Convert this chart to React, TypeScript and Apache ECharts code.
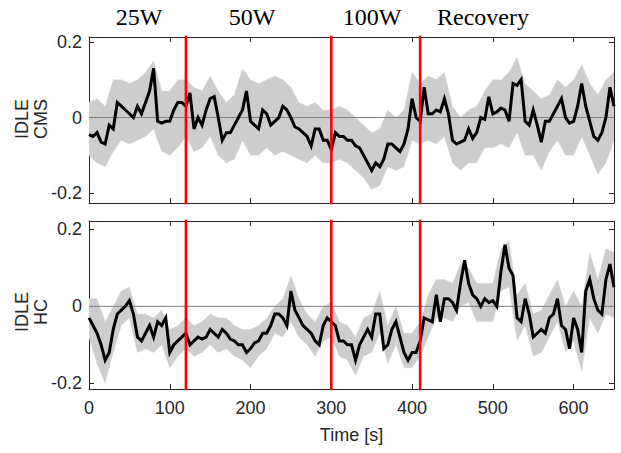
import React, { useEffect, useRef } from "react";
import * as echarts from "echarts";

// ---------- data ----------
const MEAN_STEP = 5; // seconds between black-line samples
const BAND_STEP = 10; // seconds between grey-band samples

const cmsMean = [
  -0.045, -0.05, -0.04, -0.065, -0.07, -0.02, -0.03, 0.04, 0.03, 0.02,
  0.01, 0.0, 0.03, 0.01, 0.04, 0.07, 0.13, -0.01, -0.015, -0.01,
  -0.01, 0.02, 0.04, 0.04, 0.03, 0.065, -0.03, 0.0, -0.02, 0.02,
  0.05, 0.055, 0.0, -0.06, -0.04, -0.04, -0.02, 0.0, 0.02, 0.07,
  -0.01, -0.02, -0.03, 0.02, 0.01, -0.02, -0.01, 0.0, 0.03, 0.02,
  0.0, -0.025, -0.03, -0.04, -0.05, -0.075, -0.03, -0.03, -0.06, -0.06,
  -0.085, -0.04, -0.05, -0.05, -0.06, -0.06, -0.075, -0.08, -0.1, -0.12,
  -0.14, -0.12, -0.13, -0.11, -0.07, -0.07, -0.08, -0.09, -0.07, -0.03,
  0.05, 0.0, -0.01, 0.08, 0.01, 0.01, 0.02, 0.015, 0.05, 0.01,
  -0.06, -0.07, -0.065, -0.06, -0.03, -0.055, -0.04, 0.0, -0.005, 0.055,
  0.01, 0.015, 0.025, 0.02, -0.01, 0.09, 0.085, 0.1, -0.01, -0.02,
  0.02, -0.02, -0.065, -0.01, -0.01, 0.01, 0.03, 0.05, 0.0, -0.015,
  -0.01, 0.03, 0.09, 0.03, -0.01, -0.05, -0.06, -0.04, 0.0, 0.08,
  0.03,
];

const hcMean = [
  -0.03, -0.05, -0.07, -0.1, -0.14, -0.12, -0.06, -0.02, -0.01, 0.0,
  0.015, -0.02, -0.08, -0.09, -0.07, -0.05, -0.08, -0.04, -0.05, -0.03,
  -0.12, -0.1, -0.09, -0.08, -0.07, -0.1, -0.09, -0.08, -0.085, -0.08,
  -0.06, -0.07, -0.08, -0.06, -0.07, -0.085, -0.09, -0.1, -0.1, -0.12,
  -0.11, -0.095, -0.09, -0.07, -0.07, -0.05, -0.02, -0.02, -0.03, -0.05,
  0.04, -0.01, -0.03, -0.05, -0.06, -0.07, -0.09, -0.1, -0.05, -0.03,
  -0.04, -0.05, -0.09, -0.09, -0.1, -0.1, -0.14, -0.1, -0.08, -0.06,
  -0.08, -0.02, -0.02, -0.11, -0.1, -0.06, -0.04, -0.08, -0.12, -0.14,
  -0.12, -0.12, -0.09, -0.03, -0.035, -0.04, 0.03, -0.04, 0.02, 0.02,
  0.01, -0.01, 0.06, 0.12, 0.06, 0.03, 0.02, 0.0, 0.02, 0.01,
  0.015, 0.0, 0.09, 0.16, 0.1, 0.08, -0.03, -0.04, 0.02, -0.02,
  -0.08, -0.07, -0.06, -0.07, -0.03, -0.02, 0.02, -0.05, -0.06, -0.11,
  -0.03, -0.06, -0.12, 0.04, 0.07, 0.02, -0.01, -0.02, 0.07, 0.11,
  0.05,
];

const cmsUpper = [
  0.04, 0.05, 0.03, 0.1, 0.1, 0.09, 0.1, 0.12, 0.15, 0.07,
  0.07, 0.1, 0.1, 0.08, 0.07, 0.11, 0.07, 0.04, 0.06, 0.13,
  0.1, 0.09, 0.1, 0.11, 0.1, 0.08, 0.04, 0.03, 0.04, 0.02,
  0.02, 0.03, 0.02, 0.0, -0.02, -0.04, -0.03, 0.02, 0.0, 0.02,
  0.12, 0.09, 0.11, 0.1, 0.12, 0.03, 0.0, 0.02, 0.03, 0.07,
  0.1, 0.1, 0.12, 0.16, 0.09, 0.07, 0.05, 0.06, 0.1, 0.08,
  0.1, 0.14, 0.09, 0.06, 0.1, 0.12,
];
const cmsLower = [
  -0.1, -0.12, -0.13, -0.09, -0.06, -0.07, -0.06, -0.05, -0.03, -0.09,
  -0.1, -0.08, -0.05, -0.09, -0.08, -0.05, -0.1, -0.12, -0.11, -0.06,
  -0.1, -0.1, -0.08, -0.1, -0.09, -0.1, -0.11, -0.12, -0.1, -0.12,
  -0.12, -0.11, -0.12, -0.14, -0.16, -0.19, -0.18, -0.13, -0.14, -0.13,
  -0.06, -0.07, -0.06, -0.07, -0.05, -0.12, -0.14, -0.12, -0.12, -0.08,
  -0.08, -0.07, -0.08, -0.04, -0.1, -0.1, -0.14, -0.09, -0.06, -0.1,
  -0.1, -0.05, -0.1, -0.15, -0.12, -0.06,
];
const hcUpper = [
  0.02, 0.02, -0.04, 0.0, 0.04, 0.05, -0.02, -0.02, -0.03, -0.01,
  -0.06, -0.05, -0.03, -0.05, -0.04, -0.02, -0.03, -0.03, -0.05, -0.06,
  -0.06, -0.05, -0.03, 0.0, 0.02, 0.08, 0.02, -0.02, -0.04, 0.0,
  0.01, -0.04, -0.05, -0.08, -0.03, -0.02, 0.04, -0.05, 0.0, -0.07,
  -0.07, -0.04, 0.03, 0.07, 0.07, 0.06, 0.11, 0.1, 0.06, 0.06,
  0.06, 0.15, 0.17, 0.03, 0.06, -0.02, -0.01, 0.03, 0.07, 0.0,
  0.04, 0.0, 0.14, 0.07, 0.15, 0.14,
];
const hcLower = [
  -0.08, -0.15, -0.2, -0.12, -0.05, -0.03, -0.12, -0.11, -0.12, -0.1,
  -0.16, -0.13, -0.11, -0.13, -0.12, -0.1, -0.12, -0.11, -0.13, -0.14,
  -0.16, -0.13, -0.11, -0.07, -0.08, -0.04, -0.08, -0.1, -0.13, -0.09,
  -0.08, -0.13, -0.14, -0.18, -0.13, -0.12, -0.07, -0.15, -0.1, -0.16,
  -0.16, -0.13, -0.08, -0.03, -0.03, -0.04, 0.0, 0.01, -0.04, -0.04,
  -0.04, 0.04, 0.05, -0.09, -0.05, -0.13, -0.12, -0.08, -0.04, -0.12,
  -0.09, -0.17, -0.03, -0.07, -0.02, -0.03,
];

const phaseLabels = ["25W", "50W", "100W", "Recovery"];
const phaseBoundaries = [120, 300, 410];
const yTicks = [-0.2, 0, 0.2];
const xTicks = [0, 100, 200, 300, 400, 500, 600];
const panelNames = ["IDLE\nCMS", "IDLE\nHC"];
const xName = "Time [s]";

// ---------- layout / style ----------
const SANS = '"Liberation Sans", Arial, Helvetica, sans-serif';
const SERIF = '"Liberation Serif", "Times New Roman", serif';
const TXT = "#262626";
const GRID_LEFT = 89;
const GRID_WIDTH = 525;
const grids = [
  { top: 37, height: 166, min: -0.226, max: 0.213 },
  { top: 221, height: 168, min: -0.215, max: 0.222 },
];
const phaseLabelX = [139, 252, 372, 483];

export default function App() {
  const ref = useRef<HTMLDivElement>(null);

  useEffect(() => {
    if (!ref.current) return;
    document.body.style.margin = "0";
    const chart = echarts.init(ref.current, null, { renderer: "svg" });

    const xAxes: any[] = [];
    const yAxes: any[] = [];
    const series: any[] = [];
    const means = [cmsMean, hcMean];
    const uppers = [cmsUpper, hcUpper];
    const lowers = [cmsLower, hcLower];

    grids.forEach((g, gi) => {
      const isBottom = gi === grids.length - 1;
      const lineStyle = { color: TXT, width: 1 };
      xAxes.push({
        type: "value",
        gridIndex: gi,
        position: "bottom",
        min: 0,
        max: 650,
        axisLine: { show: true, onZero: false, lineStyle },
        axisTick: { show: true, inside: true, length: 5, lineStyle, customValues: xTicks },
        axisLabel: {
          show: isBottom,
          customValues: xTicks,
          fontFamily: SANS,
          fontSize: 18,
          color: TXT,
          margin: 10,
        },
        splitLine: { show: false },
        name: isBottom ? xName : "",
        nameLocation: "middle",
        nameGap: 37,
        nameTextStyle: { fontFamily: SANS, fontSize: 18, color: TXT },
      });
      xAxes.push({
        type: "value",
        gridIndex: gi,
        position: "top",
        min: 0,
        max: 650,
        axisLine: { show: true, onZero: false, lineStyle },
        axisTick: { show: true, inside: true, length: 5, lineStyle, customValues: xTicks },
        axisLabel: { show: false, customValues: xTicks },
        splitLine: { show: false },
      });
      yAxes.push({
        type: "value",
        gridIndex: gi,
        position: "left",
        min: g.min,
        max: g.max,
        axisLine: { show: true, onZero: false, lineStyle },
        axisTick: { show: true, inside: true, length: 5, lineStyle, customValues: yTicks },
        axisLabel: {
          show: true,
          customValues: yTicks,
          fontFamily: SANS,
          fontSize: 18,
          color: TXT,
          margin: 7,
          formatter: (v: number) => (v === 0 ? "0" : String(v)),
        },
        splitLine: { show: false },
      });
      yAxes.push({
        type: "value",
        gridIndex: gi,
        position: "right",
        min: g.min,
        max: g.max,
        axisLine: { show: true, onZero: false, lineStyle },
        axisTick: { show: true, inside: true, length: 5, lineStyle, customValues: yTicks },
        axisLabel: { show: false, customValues: yTicks },
        splitLine: { show: false },
      });

      const xi = gi * 2;
      const yi = gi * 2;
      const up = uppers[gi];
      const lo = lowers[gi];

      series.push({
        type: "custom",
        xAxisIndex: xi,
        yAxisIndex: yi,
        silent: true,
        clip: true,
        z: 1,
        data: [[0, 0]],
        renderItem: (_p: any, api: any) => {
          const pts: number[][] = [];
          up.forEach((v, i) => pts.push(api.coord([i * BAND_STEP, v])));
          for (let i = lo.length - 1; i >= 0; i--) pts.push(api.coord([i * BAND_STEP, lo[i]]));
          return {
            type: "polygon",
            shape: { points: pts },
            style: { fill: "#cdcdcd", stroke: "#dadada", lineWidth: 0.5 },
          };
        },
      });
      series.push({
        type: "line",
        xAxisIndex: xi,
        yAxisIndex: yi,
        silent: true,
        symbol: "none",
        z: 2,
        data: [
          [0, 0],
          [650, 0],
        ],
        lineStyle: { color: "#7f7f7f", width: 1 },
      });
      series.push({
        type: "line",
        xAxisIndex: xi,
        yAxisIndex: yi,
        silent: true,
        symbol: "none",
        z: 3,
        clip: true,
        data: means[gi].map((v, i) => [i * MEAN_STEP, v]),
        lineStyle: { color: "#000000", width: 3, join: "miter" },
      });
      phaseBoundaries.forEach((b) => {
        series.push({
          type: "line",
          xAxisIndex: xi,
          yAxisIndex: yi,
          silent: true,
          symbol: "none",
          z: 4,
          clip: true,
          data: [
            [b, g.min - 1],
            [b, g.max + 1],
          ],
          lineStyle: { color: "#ff0000", width: 2.6 },
        });
      });
    });

    const graphics: any[] = [];
    phaseLabels.forEach((t, i) => {
      graphics.push({
        type: "text",
        x: phaseLabelX[i],
        y: 17,
        style: {
          text: t,
          font: `24px ${SERIF}`,
          fill: "#000000",
          textAlign: "center",
          textVerticalAlign: "middle",
        },
      });
    });
    panelNames.forEach((n, i) => {
      const g = grids[i];
      graphics.push({
        type: "text",
        x: 31,
        y: g.top + g.height / 2 + (i === 0 ? -1 : 7),
        rotation: Math.PI / 2,
        style: {
          text: n,
          font: `18px ${SANS}`,
          fill: TXT,
          textAlign: "center",
          textVerticalAlign: "middle",
          lineHeight: 19,
        },
      });
    });

    chart.setOption({
      animation: false,
      backgroundColor: "#ffffff",
      grid: grids.map((g) => ({
        left: GRID_LEFT,
        top: g.top,
        width: GRID_WIDTH,
        height: g.height,
        containLabel: false,
      })),
      xAxis: xAxes,
      yAxis: yAxes,
      series,
      graphic: graphics,
    });

    return () => chart.dispose();
  }, []);

  return <div ref={ref} style={{ width: 621, height: 453 }} />;
}
